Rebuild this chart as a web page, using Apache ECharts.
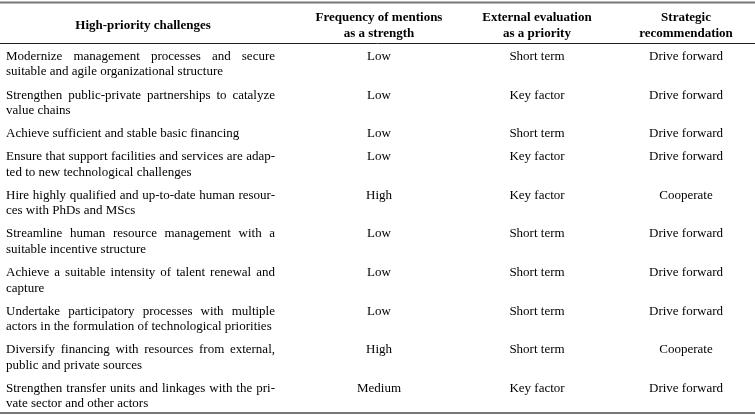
<!DOCTYPE html>
<html>
<head>
<meta charset="utf-8">
<script src="https://cdn.jsdelivr.net/npm/echarts@6/dist/echarts.min.js"></script>
<style>
html, body { margin: 0; padding: 0; background: #fff; }
#main { width: 755px; height: 418px; }
</style>
</head>
<body>
<div id="main"></div>
<script>
// table content
var headers = [
	['High-priority challenges'],
	['Frequency of mentions', 'as a strength'],
	['External evaluation', 'as a priority'],
	['Strategic', 'recommendation']
];
var challenges = [
	['Modernize management processes and secure', 'suitable and agile organizational structure'],
	['Strengthen public-private partnerships to catalyze', 'value chains'],
	['Achieve sufficient and stable basic financing'],
	['Ensure that support facilities and services are adap-', 'ted to new technological challenges'],
	['Hire highly qualified and up-to-date human resour-', 'ces with PhDs and MScs'],
	['Streamline human resource management with a', 'suitable incentive structure'],
	['Achieve a suitable intensity of talent renewal and', 'capture'],
	['Undertake participatory processes with multiple', 'actors in the formulation of technological priorities'],
	['Diversify financing with resources from external,', 'public and private sources'],
	['Strengthen transfer units and linkages with the pri-', 'vate sector and other actors']
];
var frequency = ['Low', 'Low', 'Low', 'Low', 'High', 'Low', 'Low', 'Low', 'High', 'Medium'];
var evaluation = ['Short term', 'Key factor', 'Short term', 'Key factor', 'Key factor', 'Short term', 'Short term', 'Short term', 'Short term', 'Key factor'];
var recommendation = ['Drive forward', 'Drive forward', 'Drive forward', 'Drive forward', 'Cooperate', 'Drive forward', 'Drive forward', 'Drive forward', 'Cooperate', 'Drive forward'];

// layout (in axis units = px of the 755x418 frame)
var FONT = '"Liberation Serif", "Times New Roman", serif';
var FS = 13;
var colCenter = [143, 379, 537, 686];
var textLeft = 6, textRight = 275;
var lineH = 15.5, rowGap = 7.6, firstLine = 56.5;

var rowY = [];
var y = firstLine;
for (var i = 0; i < challenges.length; i++) {
	rowY.push(y);
	y += challenges[i].length * lineH + rowGap;
}

var ctx = document.createElement('canvas').getContext('2d');
ctx.font = FS + 'px ' + FONT;

function txt(x, y, s, align, bold) {
	return {
		type: 'text',
		style: {
			x: x, y: y, text: s,
			fill: '#000',
			font: (bold ? 'bold ' : '') + FS + 'px ' + FONT,
			align: align, verticalAlign: 'middle'
		}
	};
}

// justified line like the printed table
function justLine(s, yv, api, out) {
	var words = s.split(' ');
	var widths = words.map(function (w) { return ctx.measureText(w).width; });
	var sum = widths.reduce(function (a, b) { return a + b; }, 0);
	var gap = (textRight - textLeft - sum) / (words.length - 1);
	var xv = textLeft;
	for (var k = 0; k < words.length; k++) {
		var p = api.coord([xv, yv]);
		out.push(txt(p[0], p[1], words[k], 'left'));
		xv += widths[k] + gap;
	}
}

function renderRow(params, api) {
	var r = api.value(0);
	var lines = challenges[r];
	var children = [];
	for (var l = 0; l < lines.length; l++) {
		var yv = rowY[r] + l * lineH;
		if (l < lines.length - 1) {
			justLine(lines[l], yv, api, children);
		} else {
			var p = api.coord([textLeft, yv]);
			children.push(txt(p[0], p[1], lines[l], 'left'));
		}
	}
	var cells = [frequency[r], evaluation[r], recommendation[r]];
	for (var c = 0; c < cells.length; c++) {
		var q = api.coord([colCenter[c + 1], rowY[r]]);
		children.push(txt(q[0], q[1], cells[c], 'center'));
	}
	return { type: 'group', children: children };
}

function renderFrame(params, api) {
	var children = [];
	for (var c = 0; c < headers.length; c++) {
		var h = headers[c];
		for (var l = 0; l < h.length; l++) {
			var yv = h.length === 1 ? 25.5 : 18 + l * 15.5;
			var p = api.coord([colCenter[c], yv]);
			children.push(txt(p[0], p[1], h[l], 'center', true));
		}
	}
	var rules = [[2.5, 2, '#777'], [43.5, 1, '#222'], [413, 2, '#777']];
	rules.forEach(function (ru) {
		var a = api.coord([0, ru[0]]), b = api.coord([755, ru[0]]);
		children.push({
			type: 'line',
			shape: { x1: a[0], y1: a[1], x2: b[0], y2: b[1] },
			style: { stroke: ru[2], lineWidth: ru[1] }
		});
	});
	return { type: 'group', children: children };
}

var myChart = echarts.init(document.getElementById('main'), null, { renderer: 'canvas' });
var option = {
	animation: false,
	grid: { left: 0, right: 0, top: 0, bottom: 0 },
	xAxis: { type: 'value', min: 0, max: 755, show: false },
	yAxis: { type: 'value', min: 0, max: 418, inverse: true, show: false },
	series: [
		{ type: 'custom', renderItem: renderFrame, data: [[0]], silent: true },
		{ type: 'custom', renderItem: renderRow, data: challenges.map(function (d, i) { return [i]; }), silent: true }
	]
};
myChart.setOption(option);
</script>
</body>
</html>
